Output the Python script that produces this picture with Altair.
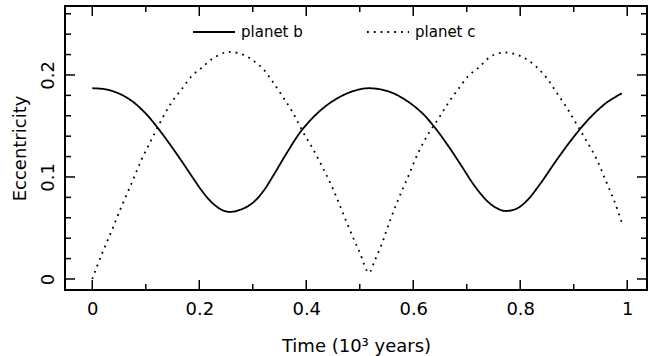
import altair as alt
import pandas as pd

# Eccentricity of planet b (solid curve)
time_b = [0.000, 0.024, 0.049, 0.074, 0.0985, 0.120, 0.142, 0.167, 0.186, 0.2045,
          0.223, 0.242, 0.257, 0.282, 0.301, 0.320, 0.339, 0.363, 0.391, 0.426,
          0.457, 0.488, 0.516, 0.553, 0.584, 0.616, 0.641, 0.666, 0.690, 0.715,
          0.740, 0.756, 0.771, 0.793, 0.812, 0.837, 0.868, 0.899, 0.930, 0.9615,
          0.990]
ecc_b = [0.187, 0.186, 0.182, 0.1745, 0.163, 0.1497, 0.1343, 0.1156, 0.1008, 0.0867,
         0.0752, 0.0678, 0.0657, 0.069, 0.0751, 0.0863, 0.1019, 0.123, 0.1454, 0.165,
         0.1768, 0.1842, 0.187, 0.184, 0.176, 0.163, 0.148, 0.130, 0.111, 0.091,
         0.0755, 0.0695, 0.0667, 0.0689, 0.0765, 0.093, 0.1166, 0.1386, 0.1578, 0.1729,
         0.182]

# Eccentricity of planet c (dotted curve)
time_c = [0.000, 0.0175, 0.036, 0.055, 0.074, 0.092, 0.111, 0.130, 0.148, 0.167,
          0.186, 0.2045, 0.223, 0.248, 0.2605, 0.282, 0.301, 0.320, 0.339, 0.357,
          0.376, 0.394, 0.413, 0.432, 0.451, 0.469, 0.488, 0.500, 0.517, 0.528,
          0.541, 0.553, 0.572, 0.591, 0.6095, 0.628, 0.647, 0.666, 0.684, 0.703,
          0.7215, 0.7465, 0.7695, 0.793, 0.814, 0.8325, 0.849, 0.868, 0.887, 0.9055,
          0.924, 0.943, 0.9615, 0.977, 0.990]
ecc_c = [0.000, 0.024, 0.047, 0.0716, 0.0944, 0.117, 0.137, 0.1566, 0.173, 0.186,
         0.199, 0.207, 0.2154, 0.222, 0.2225, 0.220, 0.214, 0.2055, 0.192, 0.178,
         0.162, 0.144, 0.127, 0.108, 0.087, 0.064, 0.040, 0.026, 0.006, 0.018,
         0.034, 0.052, 0.078, 0.101, 0.124, 0.142, 0.157, 0.173, 0.186, 0.199,
         0.207, 0.2186, 0.222, 0.220, 0.2147, 0.2069, 0.1974, 0.1827, 0.168, 0.1516,
         0.1353, 0.1173, 0.0944, 0.0748, 0.055]

series_names = ["planet b", "planet c"]

# Tick positions (drawn inward on all four sides of the frame)
x_major = [0.0, 0.2, 0.4, 0.6, 0.8, 1.0]
x_minor = [0.1, 0.3, 0.5, 0.7, 0.9]
y_major = [0.0, 0.1, 0.2]
y_minor = [0.02, 0.04, 0.06, 0.08, 0.12, 0.14, 0.16, 0.18, 0.22, 0.24, 0.26]

W, H = 582, 284
FONT = "DejaVu Sans"
MAJOR, MINOR = 10, 6
X_TITLE = "Time (10³ years)"
Y_TITLE = "Eccentricity"

curves = pd.concat([
    pd.DataFrame({"time": time_b, "ecc": ecc_b, "planet": series_names[0]}),
    pd.DataFrame({"time": time_c, "ecc": ecc_c, "planet": series_names[1]}),
])

xscale = alt.Scale(domain=[-0.051, 1.037], nice=False, zero=False)
yscale = alt.Scale(domain=[-0.0108, 0.2676], nice=False, zero=False)

# One axis definition per direction, shared by every layer so they merge cleanly
x_axis = alt.Axis(values=x_major, format="~g", grid=False, ticks=False,
                  tickSize=0, domain=False, labelFont=FONT,
                  labelFontSize=18, labelColor="black",
                  labelBaseline="alphabetic", labelPadding=24,
                  labelFlush=False,
                  titleFont=FONT, titleFontSize=18, titleFontWeight="normal",
                  titleColor="black", titleBaseline="alphabetic",
                  titleAlign="center", titleX=W / 2, titleY=61)
y_axis = alt.Axis(values=y_major, format="~g", grid=False, ticks=False,
                  tickSize=0, domain=False, labelFont=FONT,
                  labelFontSize=18, labelColor="black", labelAngle=270,
                  labelAlign="center", labelBaseline="alphabetic",
                  labelPadding=12, labelFlush=False,
                  titleFont=FONT, titleFontSize=18, titleFontWeight="normal",
                  titleColor="black", titleAngle=270, titleAlign="center",
                  titleBaseline="alphabetic", titleX=-40, titleY=H / 2)

lines = alt.Chart(curves).mark_line(
    color="black", strokeWidth=1.8, interpolate="catmull-rom"
).encode(
    x=alt.X("time:Q", scale=xscale, title=X_TITLE, axis=x_axis),
    y=alt.Y("ecc:Q", scale=yscale, title=Y_TITLE, axis=y_axis),
    strokeDash=alt.StrokeDash(
        "planet:N",
        scale=alt.Scale(domain=series_names, range=[[1, 0], [1.8, 5]]),
        legend=alt.Legend(orient="none", legendX=127, legendY=4,
                          direction="horizontal", title=None,
                          symbolType="stroke", symbolSize=1764,
                          symbolStrokeWidth=1.8, symbolStrokeColor="black",
                          labelFont=FONT, labelFontSize=15, labelColor="black",
                          labelOffset=5, columnPadding=60, padding=0),
    ),
    detail="planet:N",
)


def x_ticks(values, length):
    df = pd.DataFrame({"time": values})
    enc_x = alt.X("time:Q", scale=xscale, title=X_TITLE, axis=x_axis)
    bottom = alt.Chart(df).mark_rule(color="black", strokeWidth=1.5).encode(
        x=enc_x, y=alt.value(H), y2=alt.value(H - length))
    top = alt.Chart(df).mark_rule(color="black", strokeWidth=1.5).encode(
        x=enc_x, y=alt.value(0), y2=alt.value(length))
    return [bottom, top]


def y_ticks(values, length):
    df = pd.DataFrame({"ecc": values})
    enc_y = alt.Y("ecc:Q", scale=yscale, title=Y_TITLE, axis=y_axis)
    left = alt.Chart(df).mark_rule(color="black", strokeWidth=1.5).encode(
        y=enc_y, x=alt.value(0), x2=alt.value(length))
    right = alt.Chart(df).mark_rule(color="black", strokeWidth=1.5).encode(
        y=enc_y, x=alt.value(W), x2=alt.value(W - length))
    return [left, right]


layers = ([lines] + x_ticks(x_major, MAJOR) + x_ticks(x_minor, MINOR)
          + y_ticks(y_major, MAJOR) + y_ticks(y_minor, MINOR))

chart = alt.layer(*layers).properties(
    width=W, height=H,
    autosize=alt.AutoSizeParams(type="none"),
    padding={"left": 65, "top": 6, "right": 2, "bottom": 66},
    background="white",
).configure_view(
    stroke="black", strokeWidth=2
)

chart.save("out.html", embed_options={"renderer": "svg", "actions": False})
